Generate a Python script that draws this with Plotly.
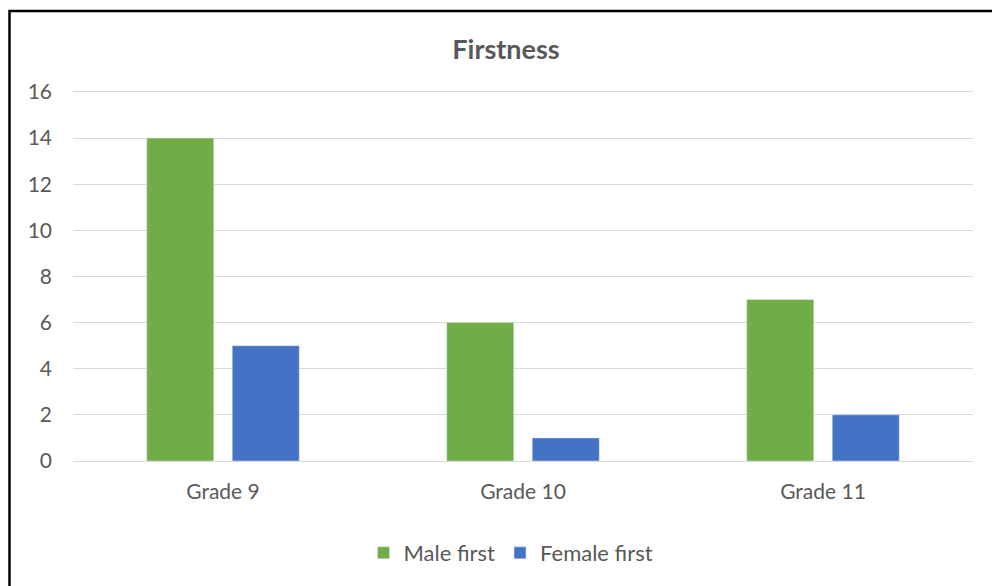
import plotly.graph_objects as go

categories = ["Grade 9", "Grade 10", "Grade 11"]
male_first = [14, 6, 7]
female_first = [5, 1, 2]
y_ticks = [0, 2, 4, 6, 8, 10, 12, 14, 16]

W, H = 992, 586
L, R, T, B = 73, 19, 85, 125
pw, ph = W - L - R, H - T - B

def px_x(p):
    return (p - L) / pw

def px_y(p):
    return (H - B - p) / ph

FONT = "Lato, Open Sans, sans-serif"
GRAY = "#595959"

fig = go.Figure()
fig.add_trace(go.Bar(x=categories, y=male_first, name="Male first", marker_color="#70AD47"))
fig.add_trace(go.Bar(x=categories, y=female_first, name="Female first", marker_color="#4472C4"))

fig.update_layout(
    width=W, height=H,
    margin=dict(l=L, r=R, t=T, b=B),
    paper_bgcolor="white", plot_bgcolor="white",
    barmode="group", bargap=0.43, bargroupgap=0.216,
    font=dict(family=FONT, color=GRAY, size=20),
    title=dict(text="<b>Firstness</b>", x=px_x(506), xanchor="center", xref="paper",
               y=1 - 50 / H, yanchor="middle", yref="container",
               font=dict(family=FONT, size=27, color=GRAY)),
    showlegend=True,
    legend=dict(orientation="h", x=px_x(511), xanchor="center", y=px_y(553), yanchor="middle",
                font=dict(family=FONT, size=22, color=GRAY), itemwidth=30, traceorder="normal"),
    xaxis=dict(showgrid=False, showline=True, linecolor="#D9D9D9", linewidth=1,
               ticks="", tickfont=dict(family=FONT, size=21, color=GRAY), ticklabelstandoff=12),
    yaxis=dict(range=[0, 16.3], tickvals=y_ticks, showgrid=True, gridcolor="#D9D9D9", gridwidth=1,
               zeroline=False, showline=False, ticks="",
               tickfont=dict(family=FONT, size=21, color=GRAY), ticklabelstandoff=20),
    shapes=[dict(type="rect", xref="paper", yref="paper",
                 x0=px_x(9.5), x1=px_x(1010), y0=px_y(610), y1=px_y(11),
                 line=dict(color="black", width=2.5), fillcolor="rgba(0,0,0,0)", layer="above")],
)

fig.write_html("out.html")
